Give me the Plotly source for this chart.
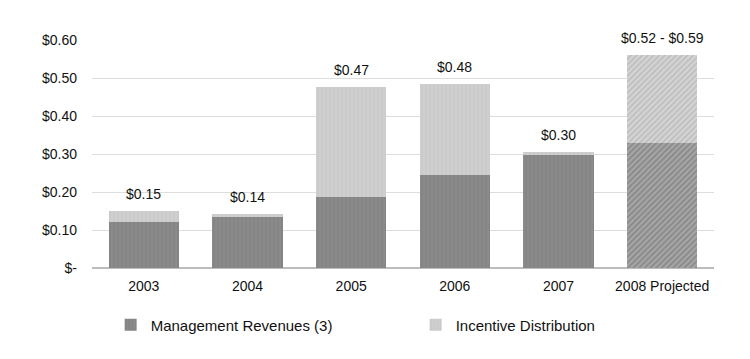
import plotly.graph_objects as go

categories = ["2003", "2004", "2005", "2006", "2007", "2008 Projected"]
management = [0.122, 0.133, 0.186, 0.246, 0.297, 0.330]
incentive = [0.028, 0.009, 0.290, 0.237, 0.008, 0.230]
total_labels = ["$0.15", "$0.14", "$0.47", "$0.48", "$0.30", "$0.52 - $0.59"]
y_ticks = [0, 0.1, 0.2, 0.3, 0.4, 0.5, 0.6]
y_ticktext = ["$-", "$0.10", "$0.20", "$0.30", "$0.40", "$0.50", "$0.60"]

font_family = "Liberation Sans, Arial, sans-serif"

mgmt_shapes = ["|", "|", "|", "|", "|", "/"]
mgmt_fg = ["#7d7d7d", "#7d7d7d", "#7d7d7d", "#7d7d7d", "#7d7d7d", "#666666"]
mgmt_bg = ["#8a8a8a", "#8a8a8a", "#8a8a8a", "#8a8a8a", "#8a8a8a", "#a6a6a6"]
inc_shapes = ["|", "|", "|", "|", "|", "/"]
inc_fg = ["#c4c4c4", "#c4c4c4", "#c4c4c4", "#c4c4c4", "#c4c4c4", "#a4a4a4"]
inc_bg = ["#cfcfcf", "#cfcfcf", "#cfcfcf", "#cfcfcf", "#cfcfcf", "#d4d4d4"]

fig = go.Figure()
fig.add_trace(go.Bar(
    x=categories, y=management, name="Management Revenues (3)",
    marker=dict(color="#858585", line=dict(width=0),
                pattern=dict(shape=mgmt_shapes, fgcolor=mgmt_fg, bgcolor=mgmt_bg,
                             size=4, solidity=0.4)),
))
fig.add_trace(go.Bar(
    x=categories, y=incentive, name="Incentive Distribution",
    marker=dict(color="#cbcbcb", line=dict(width=0),
                pattern=dict(shape=inc_shapes, fgcolor=inc_fg, bgcolor=inc_bg,
                             size=4, solidity=0.4)),
))

totals = [m + i for m, i in zip(management, incentive)]
for idx, (t, lab) in enumerate(zip(totals, total_labels)):
    fig.add_annotation(x=idx, y=t, text=lab, showarrow=False, yanchor="bottom",
                       yshift=7, font=dict(size=14, color="#111111", family=font_family))

fig.update_layout(
    width=750, height=359,
    barmode="stack", bargap=0.32,
    plot_bgcolor="white", paper_bgcolor="white",
    margin=dict(l=92, r=36, t=40, b=91),
    font=dict(family=font_family, size=13, color="#111111"),
    showlegend=True,
    legend=dict(orientation="h", x=0.03, xanchor="left", y=-0.25, yanchor="middle",
                font=dict(size=15, color="#111111"), entrywidth=260,
                entrywidthmode="pixels", traceorder="normal"),
    xaxis=dict(type="category", showgrid=False, tickfont=dict(size=14), ticks="",
               showline=False, ticklabelstandoff=8),
    yaxis=dict(range=[0, 0.6], tickvals=y_ticks, ticktext=y_ticktext,
               showgrid=True, gridcolor="#dddddd", gridwidth=1,
               zeroline=True, zerolinecolor="#bdbdbd", zerolinewidth=1.5,
               tickfont=dict(size=14), ticks="", ticklabelstandoff=14),
)

fig.write_html("out.html", config={"displayModeBar": False},
               post_script="document.body.style.margin='0';")
